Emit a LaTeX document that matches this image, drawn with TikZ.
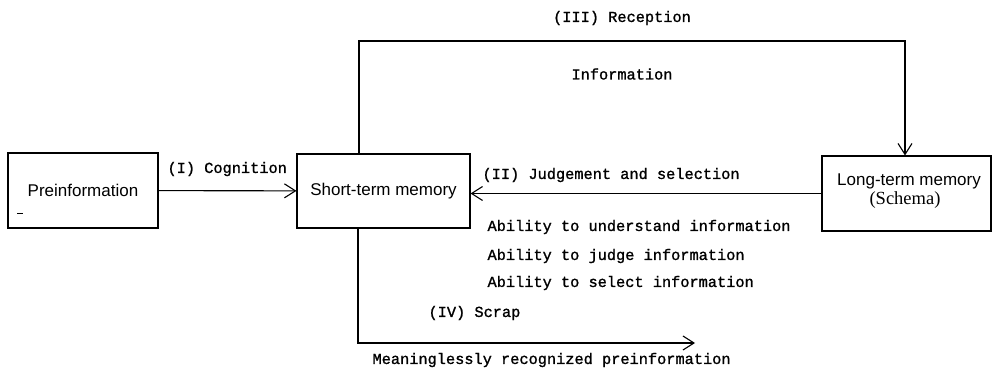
\documentclass[tikz,border=0pt]{standalone}
\usepackage{fontspec}
\setmainfont{Liberation Serif}
\newfontfamily\boxfont{Liberation Sans}
\newfontfamily\labfont[FakeBold=1.2]{Liberation Mono}
\usetikzlibrary{arrows.meta}
\begin{document}
\begin{tikzpicture}[x=1pt,y=-1pt,
  every path/.style={line width=1.1pt},
  box/.style={draw, line width=1.1pt, rectangle, inner sep=0pt, font=\boxfont\fontsize{17}{19}\selectfont},
  intext/.style={inner sep=0pt},
  lab/.style={inner sep=0pt, font=\labfont\fontsize{15.3}{17}\selectfont},
  arr/.style={-{Straight Barb[length=11pt,width=14pt]}, line width=1.1pt}]
\useasboundingbox (0,0) rectangle (993,374);
% boxes
\node[box, minimum width=150pt, minimum height=75pt] (pre) at (83,190.5) {Preinformation};
\node[box, minimum width=173pt, minimum height=74pt] (stm) at (383.5,191) {Short-term memory};
\node[box, minimum width=169pt, minimum height=75pt] (ltm) at (906.5,193.5) {};
\node[intext, font=\boxfont\fontsize{17}{19}\selectfont] (ltmA) at (909,181) {Long-term memory};
\node[intext, font=\rmfamily\fontsize{18.5}{20}\selectfont] (ltmB) at (905,200) {(Schema)};
\draw[line width=0.8pt] (17,213) -- (23,213);
% coordinates
\coordinate (tl) at (359,41);
\coordinate (tr) at (905,41);
\coordinate (bl) at (358,343);
\coordinate (br) at (695,343);
% connectors
\draw[arr] (pre) -- (stm);
\draw[arr] (ltm.west) -- (stm.east |- ltm.west);
\draw[arr] (stm.north -| tl) -- (tl) -- (tr) -- (ltm.north -| tr);
\draw[arr] (stm.south -| bl) -- (bl) -- (br);
% labels
\node[lab, anchor=west] (cog) at (167,169) {(I) Cognition};
\node[lab, anchor=west] (jud) at (482,175) {(II) Judgement and selection};
\node[lab] (rec) at (622,18) {(III) Reception};
\node[lab] (inf) at (622,74) {Information};
\node[lab, anchor=west] (ab1) at (487,227) {Ability to understand information};
\node[lab, anchor=west] (ab2) at (487,256) {Ability to judge information};
\node[lab, anchor=west] (ab3) at (487,283) {Ability to select information};
\node[lab, anchor=west] (scr) at (428,313) {(IV) Scrap};
\node[lab, anchor=west] (mea) at (372,360) {Meaninglessly recognized preinformation};
\end{tikzpicture}
\end{document}
